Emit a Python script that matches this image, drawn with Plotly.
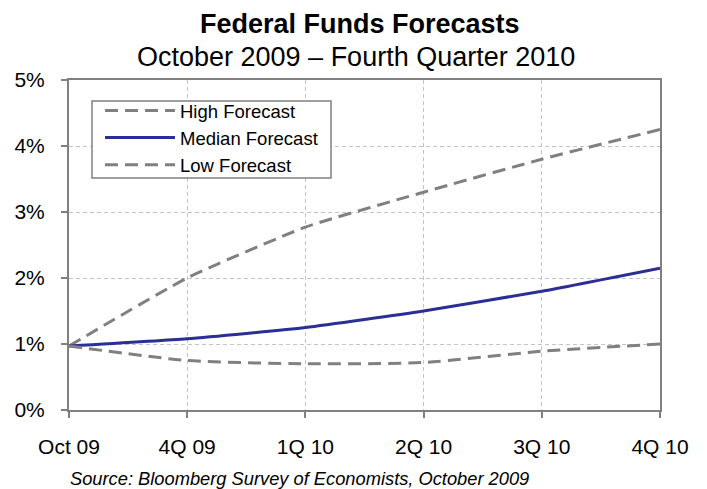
import plotly.graph_objects as go

categories = ["Oct 09", "4Q 09", "1Q 10", "2Q 10", "3Q 10", "4Q 10"]
high = [0.97, 2.0, 2.77, 3.30, 3.80, 4.25]
median = [0.97, 1.08, 1.25, 1.50, 1.80, 2.15]
low = [0.97, 0.75, 0.70, 0.72, 0.89, 1.00]
y_ticks = [0, 1, 2, 3, 4, 5]

GRAY = "#808080"
NAVY = "#2b2e94"
FONT = "Liberation Sans, Arial, sans-serif"
x = list(range(len(categories)))

W, H = 707, 489
L, R, T, B = 69, 47, 80, 79

fig = go.Figure()
fig.add_trace(go.Scatter(x=x, y=high, name="High Forecast", mode="lines",
                         line=dict(color=GRAY, width=3, dash="13px,7px", shape="spline", smoothing=0.5)))
fig.add_trace(go.Scatter(x=x, y=median, name="Median Forecast", mode="lines",
                         line=dict(color=NAVY, width=3, shape="spline", smoothing=0.5)))
fig.add_trace(go.Scatter(x=x, y=low, name="Low Forecast", mode="lines",
                         line=dict(color=GRAY, width=3, dash="13px,7px", shape="spline", smoothing=0.6)))

plot_h = H - T - B
plot_w = W - L - R
def px_to_paper(px, py):
    return (px - L) / plot_w, (H - B - py) / plot_h

lx, ly = px_to_paper(100, 92)
bx0, by0 = px_to_paper(92, 178)
bx1, by1 = px_to_paper(331, 101)

fig.update_layout(
    width=W, height=H,
    margin=dict(l=L, r=R, t=T, b=B),
    paper_bgcolor="white", plot_bgcolor="white",
    font=dict(family=FONT, size=21, color="black"),
    showlegend=True,
    legend=dict(x=lx, y=ly, xanchor="left", yanchor="top",
                bgcolor="rgba(0,0,0,0)", borderwidth=0,
                font=dict(size=18.5, family=FONT, color="black"), itemwidth=70,
                tracegroupgap=0),
    xaxis=dict(range=[0, 5], tickmode="array", tickvals=x, ticktext=categories,
               showgrid=True, gridcolor="#c4c4c4", griddash="4px,3px", gridwidth=1,
               showline=True, linecolor=GRAY, linewidth=2, mirror=True,
               ticks="outside", ticklen=6, tickcolor=GRAY, tickwidth=2,
               ticklabelstandoff=11,
               zeroline=False, tickfont=dict(size=21)),
    yaxis=dict(range=[0, 5], tickmode="array", tickvals=y_ticks,
               ticktext=[f"{v}%" for v in y_ticks],
               showgrid=True, gridcolor="#c4c4c4", griddash="4px,3px", gridwidth=1,
               showline=True, linecolor=GRAY, linewidth=2, mirror=True,
               ticks="outside", ticklen=6, tickcolor=GRAY, tickwidth=2,
               ticklabelstandoff=12,
               zeroline=False, tickfont=dict(size=21)),
)

# legend frame
fig.add_shape(type="rect", xref="paper", yref="paper", x0=bx0, y0=by0, x1=bx1, y1=by1,
              fillcolor="white", line=dict(color=GRAY, width=1.5), layer="above")

tx, ty = px_to_paper(360, 24)
sx, sy = px_to_paper(355.5, 57)
srcx, srcy = px_to_paper(68, 479)
fig.add_annotation(text="<b>Federal Funds Forecasts</b>", x=tx, y=ty, xref="paper", yref="paper",
                   xanchor="center", yanchor="middle", showarrow=False, font=dict(size=27, family=FONT))
fig.add_annotation(text="October 2009 – Fourth Quarter 2010", x=sx, y=sy, xref="paper", yref="paper",
                   xanchor="center", yanchor="middle", showarrow=False, font=dict(size=27, family=FONT))
fig.add_annotation(text="<i>Source: Bloomberg Survey of Economists, October 2009</i>", x=srcx, y=srcy,
                   xref="paper", yref="paper", xanchor="left", yanchor="middle", showarrow=False,
                   font=dict(size=18.3, family=FONT))

fig.write_html("out.html")
